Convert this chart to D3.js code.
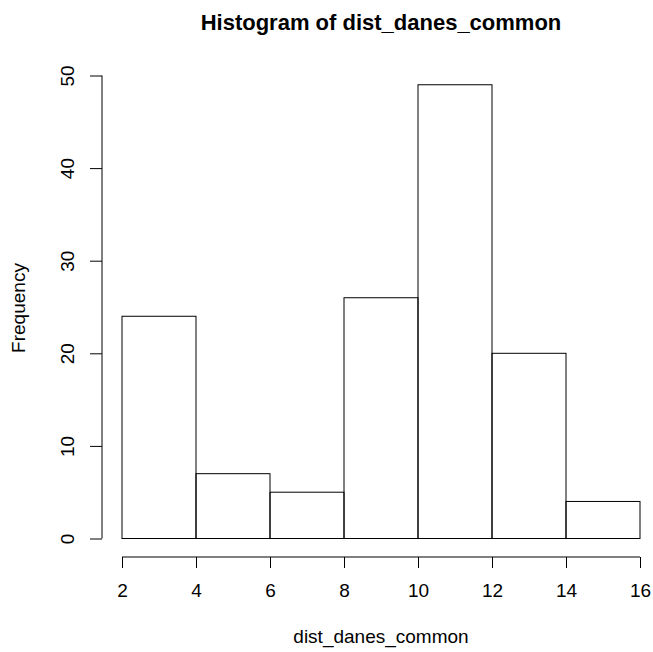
<!DOCTYPE html>
<html>
<head>
<meta charset="utf-8">
<script src="https://cdn.jsdelivr.net/npm/d3@7"></script>
<style>
  body { margin: 0; background: #fff; }
  text { font-family: "Liberation Sans", Arial, Helvetica, sans-serif; fill: #000; }
</style>
</head>
<body>
<div id="chart"></div>
<script>
let width = 653;
let height = 652;

// histogram bins (left edges) and counts
let binStarts = [2, 4, 6, 8, 10, 12, 14];
let binWidth = 2;
let counts = [24, 7, 5, 26, 49, 20, 4];
let xTicks = [2, 4, 6, 8, 10, 12, 14, 16];
let yTicks = [0, 10, 20, 30, 40, 50];

let svg = d3.select("#chart")
    .append("svg")
    .attr("width", width)
    .attr("height", height);

let xScale = d3.scaleLinear().domain([2, 16]).range([122, 640]);
let yScale = d3.scaleLinear().domain([0, 50]).range([538.5, 75.5]);

// bars
svg.selectAll(".bar")
    .data(binStarts)
    .enter()
    .append("rect")
    .attr("class", "bar")
    .attr("x", d => xScale(d))
    .attr("width", d => xScale(d + binWidth) - xScale(d))
    .attr("y", (d, i) => yScale(counts[i]))
    .attr("height", (d, i) => yScale(0) - yScale(counts[i]))
    .attr("fill", "none")
    .attr("stroke", "#000")
    .attr("stroke-width", 1);

// x axis
let xAxis = d3.axisBottom(xScale)
    .tickValues(xTicks)
    .tickSize(11)
    .tickPadding(0)
    .tickFormat(d3.format("d"));

let gx = svg.append("g")
    .attr("transform", "translate(0,557)")
    .call(xAxis);
gx.select(".domain").attr("d", "M" + xScale(2) + ",0H" + xScale(16));
gx.selectAll("text")
    .style("font-size", "19px")
    .attr("dy", null)
    .attr("y", 40);

// y axis
let yAxis = d3.axisLeft(yScale)
    .tickValues(yTicks)
    .tickSize(12)
    .tickPadding(0);

let gy = svg.append("g")
    .attr("transform", "translate(102,0)")
    .call(yAxis);
gy.select(".domain").attr("d", "M0," + yScale(0) + "V" + yScale(50));
gy.selectAll("text")
    .style("font-size", "19px")
    .attr("text-anchor", "middle")
    .attr("dy", null)
    .attr("x", null)
    .attr("transform", "translate(-28,0) rotate(-90)");

// title and axis labels
svg.append("text")
    .attr("x", 381)
    .attr("y", 30)
    .attr("text-anchor", "middle")
    .style("font-size", "22px")
    .style("font-weight", "bold")
    .text("Histogram of dist_danes_common");

svg.append("text")
    .attr("x", 381)
    .attr("y", 643)
    .attr("text-anchor", "middle")
    .style("font-size", "19px")
    .text("dist_danes_common");

svg.append("text")
    .attr("transform", "translate(25,308) rotate(-90)")
    .attr("text-anchor", "middle")
    .style("font-size", "19px")
    .text("Frequency");
</script>
</body>
</html>
